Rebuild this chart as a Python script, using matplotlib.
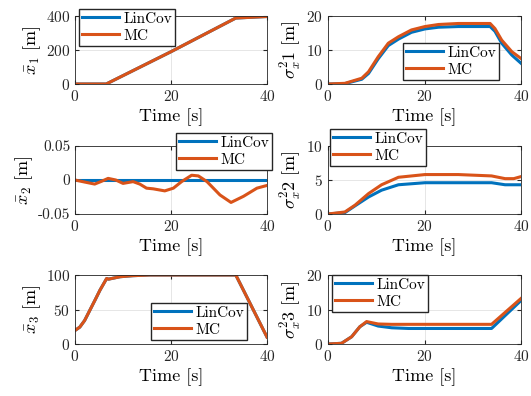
import matplotlib.pyplot as plt

plt.rcParams['font.family'] = 'serif'
plt.rcParams['font.serif'] = ['cmr10', 'DejaVu Serif']
plt.rcParams['mathtext.fontset'] = 'cm'
plt.rcParams['axes.unicode_minus'] = False
plt.rcParams['axes.formatter.use_mathtext'] = True

BLUE = '#0072BD'
ORANGE = '#D95319'

# ---- data ----
t_x1 = [0, 6.5, 20, 33.5, 40]
x1_lin = [0, 0, 190, 388, 397]
x1_mc = [0, 0, 190, 388, 397]

t_x2 = [0, 2, 4.1, 5.5, 6.9, 8.5, 10, 12.1, 13.5, 14.9, 16.3, 18.7, 20.5, 22.2,
        24.3, 25.7, 27.5, 30.2, 32.5, 35.1, 37.9, 40]
x2_lin = [0] * len(t_x2)
x2_mc = [0, -0.003, -0.006, -0.002, 0.0024, 0.0, -0.005, -0.0024, -0.006, -0.012,
         -0.013, -0.016, -0.012, -0.0024, 0.007, 0.006, -0.0024, -0.022, -0.033,
         -0.024, -0.012, -0.008]

t_x3 = [0, 1, 2, 3.1, 4.2, 5.2, 6.6, 7, 9.4, 12, 15.6, 20, 33.5, 40]
x3_lin = [19.6, 24.5, 34, 49, 64, 78, 95, 94, 97.5, 99, 100, 100, 100, 10]
x3_mc = [19.6, 24.5, 34, 49, 64, 78, 95, 94, 97.5, 99, 100, 100, 100, 10]

t_s1 = [0, 3.5, 7, 8.4, 10.4, 12.5, 14.6, 17.3, 20.1, 22.9, 27, 33.6, 34.6,
        36, 38.1, 40]
s1_lin = [0, 0.1, 1.4, 3.1, 7.4, 11.3, 13.2, 15.2, 16.2, 16.7, 16.9, 16.9,
          15.5, 12.0, 8.5, 6.1]
s1_mc = [0, 0.2, 1.7, 3.6, 8.0, 12.0, 13.9, 15.9, 16.9, 17.5, 17.8, 17.8,
         16.3, 12.9, 9.5, 7.5]

t_s2 = [0, 3.5, 5.6, 8.4, 11.1, 14.6, 20.1, 27, 33.9, 36.7, 38.5, 40]
s2_lin = [0, 0.2, 1.2, 2.5, 3.5, 4.3, 4.6, 4.6, 4.6, 4.3, 4.3, 4.3]
s2_mc = [0, 0.3, 1.3, 3.0, 4.3, 5.4, 5.8, 5.8, 5.6, 5.2, 5.2, 5.5]

t_s3 = [0, 2.8, 4.9, 6.6, 8, 10.4, 13.2, 16.7, 25, 33.9, 40]
s3_lin = [0, 0.2, 2.1, 5.0, 6.3, 5.2, 4.7, 4.5, 4.5, 4.5, 12.6]
s3_mc = [0, 0.2, 2.1, 5.0, 6.5, 5.8, 5.7, 5.7, 5.7, 5.7, 13.2]

panels = [
    # (rect in px: left, top, right, bottom), t, lin, mc, ylim, yticks, ylabel, legend top-left px
    ((75, 16, 267, 84), t_x1, x1_lin, x1_mc, (0, 400), [0, 200, 400],
     r'$\bar{x}_1$ [m]', (79, 9)),
    ((328, 16, 521, 84), t_s1, s1_lin, s1_mc, (0, 20), [0, 10, 20],
     r'$\sigma_x^2 1$ [m]', (403, 43)),
    ((75, 146, 267, 214), t_x2, x2_lin, x2_mc, (-0.05, 0.05), [-0.05, 0, 0.05],
     r'$\bar{x}_2$ [m]', (176, 133)),
    ((328, 146, 521, 214), t_s2, s2_lin, s2_mc, (0, 10), [0, 5, 10],
     r'$\sigma_x^2 2$ [m]', (330, 129)),
    ((75, 275, 267, 344), t_x3, x3_lin, x3_mc, (0, 100), [0, 50, 100],
     r'$\bar{x}_3$ [m]', (151, 303)),
    ((328, 275, 521, 344), t_s3, s3_lin, s3_mc, (0, 20), [0, 10, 20],
     r'$\sigma_x^2 3$ [m]', (332, 275)),
]

W, H = 531, 396
fig = plt.figure(figsize=(W / 100, H / 100), dpi=100)

for (l, tp, r, b), t, lin, mc, ylim, yt, ylab, (lx, ly) in panels:
    ax = fig.add_axes([l / W, 1 - b / H, (r - l) / W, (b - tp) / H])
    ax.plot(t, lin, color=BLUE, lw=2.2, label='LinCov')
    ax.plot(t, mc, color=ORANGE, lw=2.2, label='MC')
    ax.set_xlim(0, 40)
    ax.set_ylim(*ylim)
    ax.set_xticks([0, 20, 40])
    ax.set_yticks(yt)
    if ylim[0] < 0:
        ax.set_yticklabels(['-0.05', '0', '0.05'])
    ax.grid(True, color='#e6e6e6', lw=0.7)
    ax.set_axisbelow(True)
    ax.tick_params(direction='in', length=3, labelsize=11, colors='#262626',
                   top=True, right=True)
    for s in ax.spines.values():
        s.set_color('#262626')
        s.set_linewidth(0.6)
    ax.set_xlabel('Time [s]', fontsize=13, labelpad=3)
    ax.set_ylabel(ylab, fontsize=13, labelpad=2)
    ax.legend(loc='upper left', bbox_to_anchor=(lx / W, 1 - ly / H),
              bbox_transform=fig.transFigure, fontsize=11, fancybox=False,
              edgecolor='#262626', framealpha=1, borderpad=0.2,
              handlelength=2.4, handletextpad=0.3, labelspacing=0.2,
              borderaxespad=0)

fig.savefig('out.png', dpi=100)
